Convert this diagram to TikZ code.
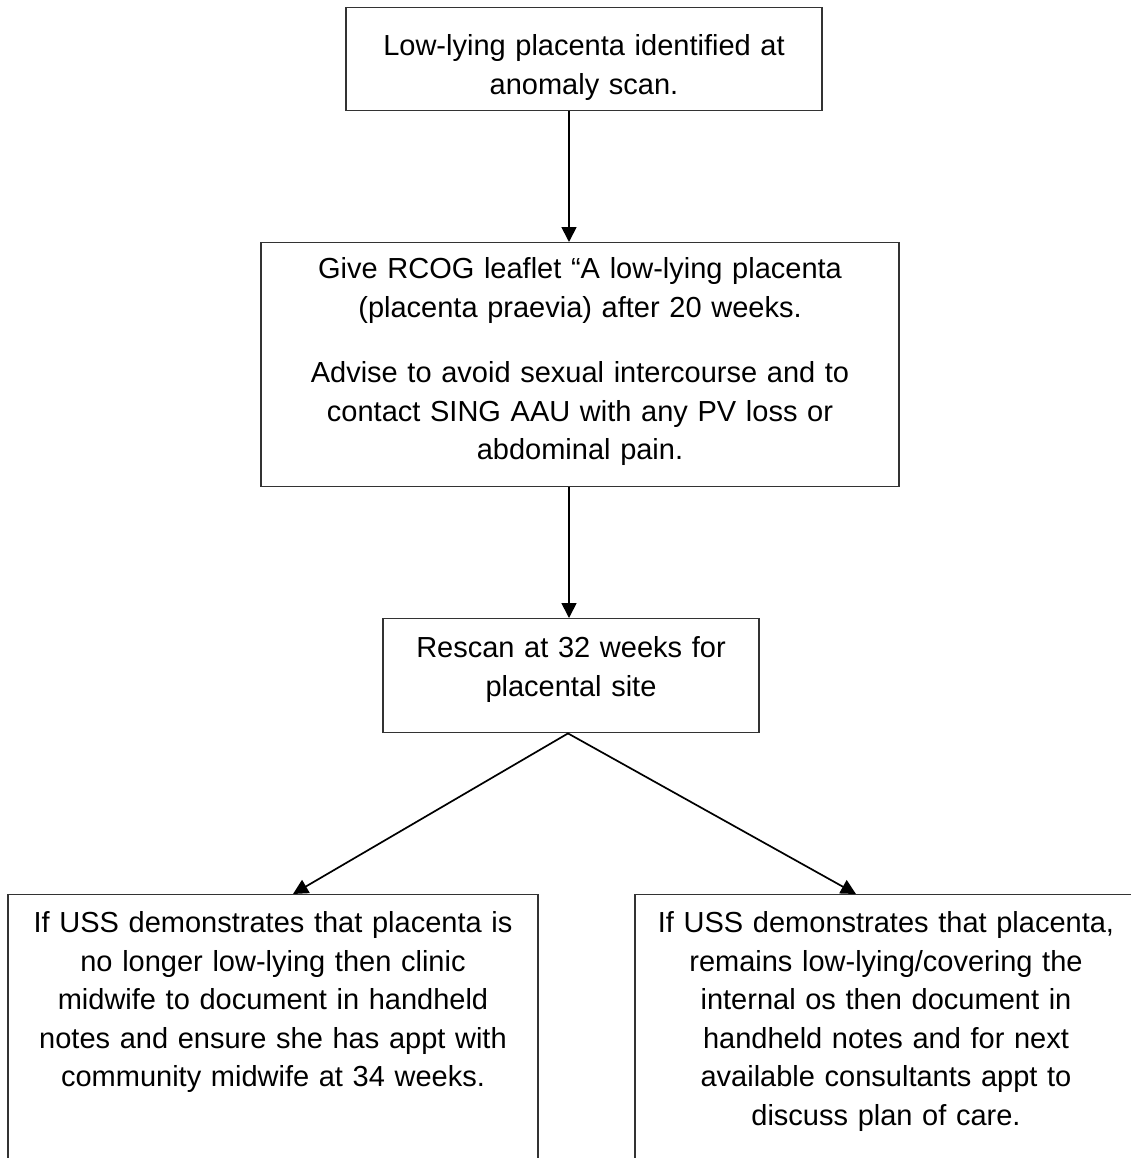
\documentclass[tikz,border=0pt]{standalone}
\usepackage{fontspec}
\setmainfont{Liberation Sans}
\usetikzlibrary{arrows.meta}
\tikzset{
    stepbox/.style={draw=black!80, line width=0.7pt, align=center, inner sep=0pt, anchor=north,
        font=\fontsize{14.5}{19.25}\selectfont},
    flow/.style={-{Triangle[width=7.5pt,length=7.5pt]}, line width=0.85pt}
}

\begin{document}
\begin{tikzpicture}[x=0.5pt, y=-0.5pt]
    \useasboundingbox (0,0) rectangle (1131,1158);

    \node[stepbox, text width=238pt, text height=24pt, text depth=27.5pt] (anomaly) at (584,7)
        {Low-lying placenta identified at\\anomaly scan.};
    \node[stepbox, text width=319pt, text height=18pt, text depth=104pt] (leaflet) at (580,242)
        {Give RCOG leaflet “A low-lying placenta\\(placenta praevia) after 20 weeks.\\[13.5pt]Advise to avoid sexual intercourse and to\\contact SING AAU with any PV loss or\\abdominal pain.};
    \node[stepbox, text width=188pt, text height=19.5pt, text depth=37.5pt] (rescan) at (571,618)
        {Rescan at 32 weeks for\\placental site};

    \node[stepbox, text width=265pt, text height=19pt, text depth=200pt] (nolonger) at (273,894)
        {If USS demonstrates that placenta is\\no longer low-lying then clinic\\midwife to document in handheld\\notes and ensure she has appt with\\community midwife at 34 weeks.};
    \node[stepbox, text width=251pt, text height=19pt, text depth=200pt] (remains) at (886,894)
        {If USS demonstrates that placenta,\\remains low-lying/covering the\\internal os then document in\\handheld notes and for next\\available consultants appt to\\discuss plan of care.};

    \draw[flow] ([xshift=-7.5pt]anomaly.south) -- ([xshift=-5.5pt]leaflet.north);
    \draw[flow] ([xshift=-5.5pt]leaflet.south) -- ([xshift=-1pt]rescan.north);
    \draw[flow] ([xshift=-1.5pt]rescan.south) -- ([xshift=10pt]nolonger.north);
    \draw[flow] ([xshift=-1.5pt]rescan.south) -- ([xshift=-15pt]remains.north);
\end{tikzpicture}
\end{document}
